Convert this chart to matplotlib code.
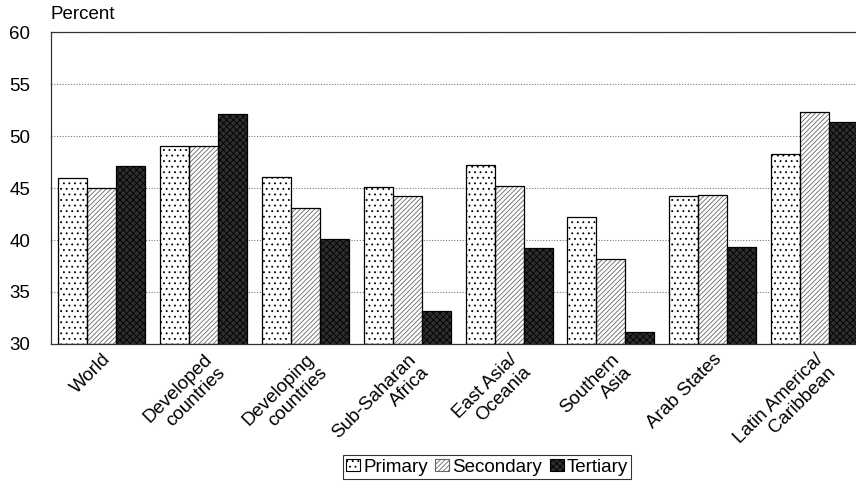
import matplotlib
matplotlib.use('Agg')
import matplotlib.pyplot as plt
from matplotlib.patches import Rectangle
import numpy as np

regions = ['World', 'Developed\ncountries', 'Developing\ncountries', 'Sub-Saharan\nAfrica',
           'East Asia/\nOceania', 'Southern\nAsia', 'Arab States', 'Latin America/\nCaribbean']
primary = [46.0, 49.0, 46.1, 45.1, 47.2, 42.2, 44.2, 48.3]
secondary = [45.0, 49.0, 43.1, 44.2, 45.2, 38.2, 44.3, 52.3]
tertiary = [47.1, 52.1, 40.1, 33.2, 39.2, 31.2, 39.3, 51.3]
series_names = ['Primary', 'Secondary', 'Tertiary']

plt.rcParams['font.family'] = ['Liberation Sans', 'DejaVu Sans']
plt.rcParams['hatch.linewidth'] = 0.6

fig = plt.figure(figsize=(8.56, 4.86), dpi=100)
ax = fig.add_axes([51 / 856, 1 - 344 / 486, 1 - 51 / 856, (344 - 32) / 486])

x = np.arange(len(regions))
w = 0.285
styles = [
    dict(facecolor='white', hatch='...', hatchcol='black'),
    dict(facecolor='white', hatch='///////', hatchcol='#666666'),
    dict(facecolor='#2e2e2e', hatch='xxxxx', hatchcol='black'),
]
handles = []
for k, vals in enumerate([primary, secondary, tertiary]):
    st = styles[k]
    pos = x + (k - 1) * w
    base = [v - 30 for v in vals]
    # hatch layer, then black outline on top
    ax.bar(pos, base, w, bottom=30, color=st['facecolor'], hatch=st['hatch'],
           edgecolor=st['hatchcol'], linewidth=0, zorder=2)
    ax.bar(pos, base, w, bottom=30, fill=False, edgecolor='black', linewidth=0.9, zorder=3)
    handles.append(Rectangle((0, 0), 1, 1, facecolor=st['facecolor'], hatch=st['hatch'],
                             edgecolor=st['hatchcol'], linewidth=0.8))

ax.set_ylim(30, 60)
ax.set_xlim(-0.5, -0.5 + 805 / 101.8)
ax.set_yticks([30, 35, 40, 45, 50, 55, 60])
ax.tick_params(axis='y', length=0, pad=15, labelsize=13.5)
ax.yaxis.grid(True, linestyle=(0, (1, 1.5)), color='#777777', linewidth=0.8, zorder=0)
ax.set_axisbelow(True)
ax.spines['right'].set_visible(False)
for s in ['left', 'top', 'bottom']:
    ax.spines[s].set_color('#333333')
    ax.spines[s].set_linewidth(0.9)

ax.set_xticks(x)
ax.set_xticklabels(regions, rotation=45, ha='right', va='top', rotation_mode='anchor',
                   multialignment='right', fontsize=13.5, linespacing=1.1)
ax.tick_params(axis='x', length=0, pad=5)

ax.text(0, 1.03, 'Percent', transform=ax.transAxes, fontsize=13.5, ha='left', va='bottom')

leg = fig.legend(handles, series_names, loc='center', bbox_to_anchor=(487 / 856, 1 - 467 / 486),
                 ncol=3, frameon=True, fancybox=False, fontsize=13.5, handlelength=0.75,
                 handleheight=0.6, handletextpad=0.15, columnspacing=0.4, borderpad=0.2,
                 borderaxespad=0)
leg.get_frame().set_edgecolor('black')
leg.get_frame().set_linewidth(0.8)

fig.savefig('out.png', dpi=100)
